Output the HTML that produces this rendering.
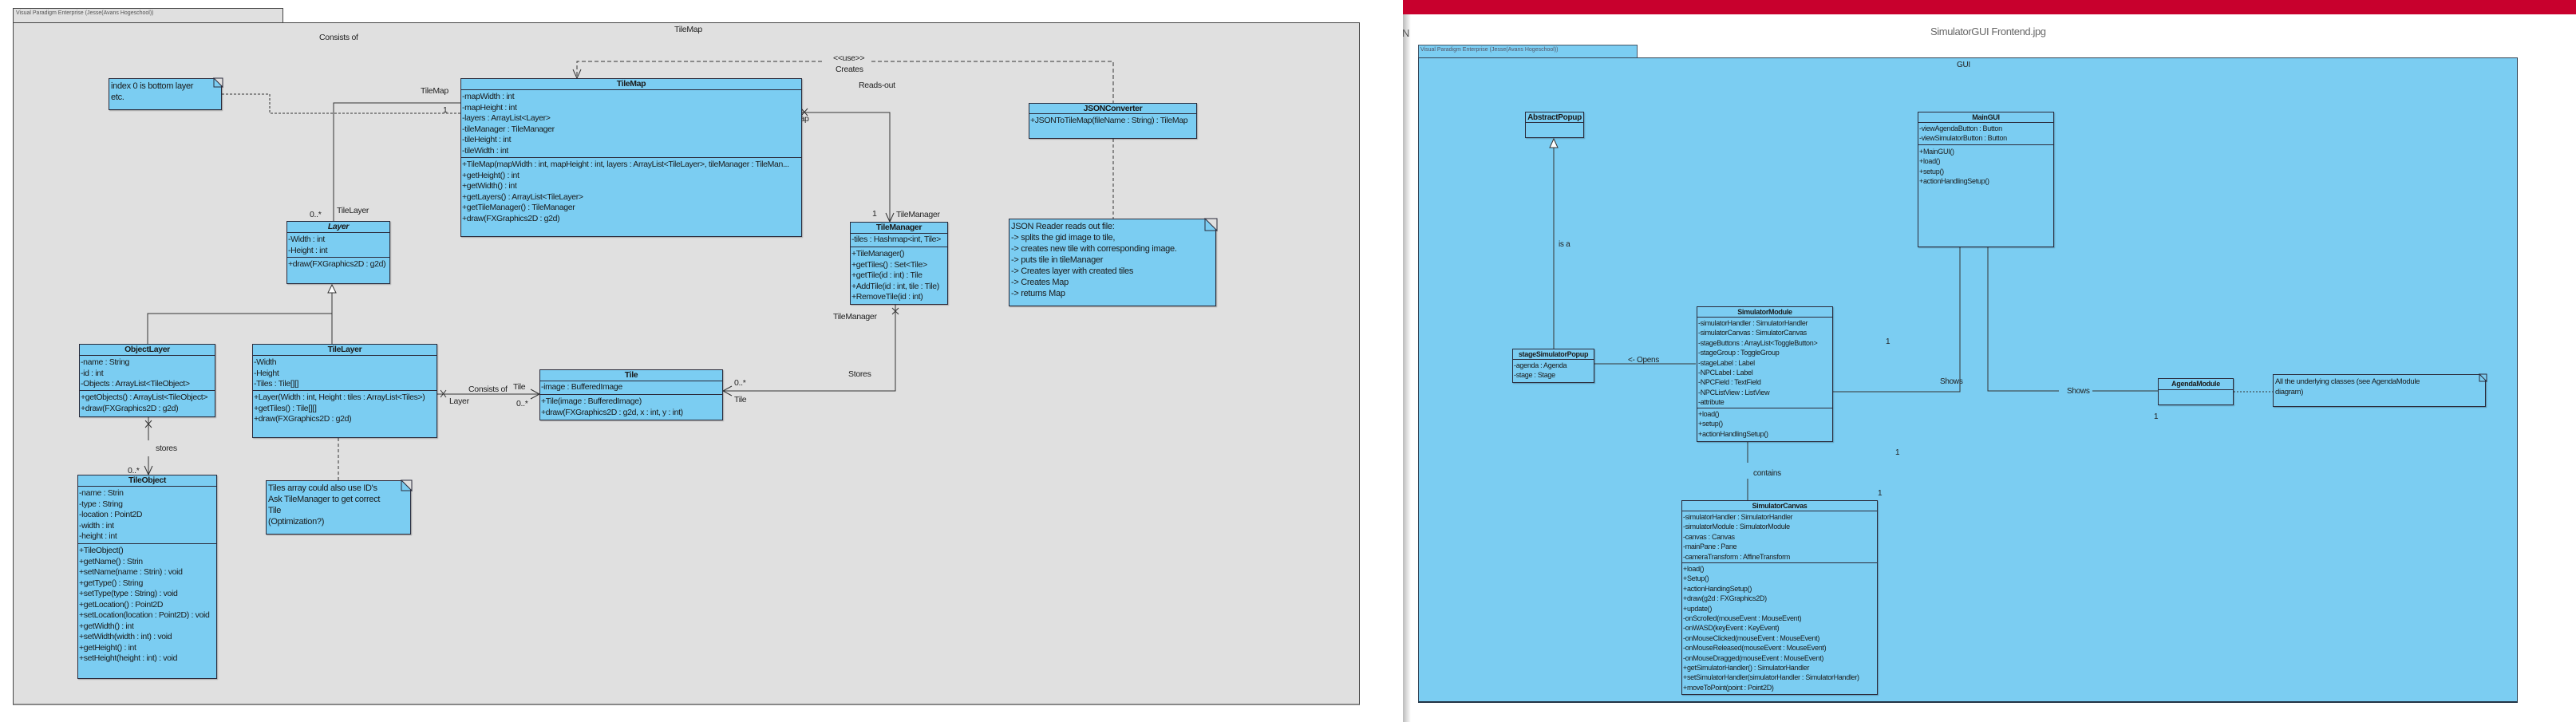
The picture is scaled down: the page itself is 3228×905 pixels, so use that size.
<!DOCTYPE html>
<html><head><meta charset="utf-8"><style>
*{margin:0;padding:0;box-sizing:border-box}
body{width:3228px;height:905px;position:relative;background:#fff;overflow:hidden;font-family:"Liberation Sans",Arial,sans-serif;color:#1a1a1a}
.a{position:absolute}
.c{position:absolute;background:#7bcdf2;border:1px solid #2a2a3a;font-size:10.5px;letter-spacing:-0.35px;overflow:hidden;white-space:nowrap;box-shadow:1px 1px 1px rgba(0,0,0,.25)}
.c .h{font-weight:bold;text-align:center;border-bottom:1px solid #2a2a3a;line-height:13px}
.c .s{border-bottom:1px solid #2a2a3a;padding-top:2px}
.c .s:last-child{border-bottom:none}
.c .r{height:13.5px;line-height:13.5px;padding-left:1px}
.g{font-size:9px;letter-spacing:-0.3px}
.g .r{height:12.4px;line-height:12.4px}
.n{position:absolute;background:#7bcdf2;border:1px solid #2a2a3a;font-size:11px;letter-spacing:-0.3px;padding:2px 2px;line-height:14px;white-space:nowrap;box-shadow:1px 1px 1px rgba(0,0,0,.3)}
svg{position:absolute;left:0;top:0}
</style></head><body>

<!-- left pane -->
<div class="a" style="left:16px;top:10px;width:339px;height:19px;background:#e0e0e0;border:1px solid #444;font-size:7px;color:#555;padding:2px 3px">Visual Paradigm Enterprise (Jesse(Avans Hogeschool))</div>
<div class="a" style="left:16px;top:28px;width:1688px;height:856px;background:#e0e0e0;border:1px solid #444;border-bottom:2px solid #888"></div>

<!-- right pane -->
<div class="a" style="left:1758px;top:0;width:1470px;height:905px;background:#fff"></div>
<div class="a" style="left:1758px;top:0;width:10px;height:905px;background:linear-gradient(90deg,#bbb,#fff)"></div>
<div class="a" style="left:1758px;top:0;width:1470px;height:18px;background:#c8002d"></div>
<div class="a" style="left:1757px;top:34px;font-size:13px;color:#555">N</div>
<div class="a" style="left:2419px;top:32px;font-size:13px;color:#666;letter-spacing:-0.4px">SimulatorGUI Frontend.jpg</div>
<div class="a" style="left:1777px;top:56px;width:275px;height:17px;background:#7bcdf2;border:1px solid #456;font-size:7px;color:#556;padding:2px 2px">Visual Paradigm Enterprise (Jesse(Avans Hogeschool))</div>
<div class="a" style="left:1777px;top:72px;width:1378px;height:809px;background:#7bcdf2;border:1px solid #345;border-bottom:2px solid #234"></div>

<svg width="3228" height="905" style="z-index:1">
<g stroke="#333" stroke-width="1" fill="none">
<!-- TileMap - Layer -->
<polyline points="577,129 418,129 418,277"/>
<polyline points="278,118 338,118 338,142 577,142" stroke-dasharray="3,2"/>
<!-- generalization -->
<polyline points="416,366 416,431"/>
<polyline points="185,431 185,393 416,393"/>
<polygon points="416,357 411,367 421,367" fill="#fff"/>
<!-- use -->
<polyline points="1030,77 723,77 723,98" stroke-dasharray="5,3"/>
<polyline points="1092,77 1395,77 1395,129" stroke-dasharray="5,3"/>
<polyline points="718,87 723,98 728,87"/>
<!-- TileMap - TileManager -->
<polyline points="1005,141 1115,141 1115,278"/>
<polyline points="1110,267 1115,278 1120,267"/>
<path d="M1004,136 l8,9 M1012,136 l-8,9"/>
<!-- TileManager - Tile -->
<polyline points="1122,382 1122,490 906,490"/>
<path d="M1118,386 l8,8 M1126,386 l-8,8"/>
<polyline points="917,484 906,490 917,496"/>
<!-- TileLayer - Tile -->
<polyline points="548,494 676,494"/>
<path d="M552,489 l7,9 M559,489 l-7,9"/>
<polyline points="665,488 676,494 665,500"/>
<!-- ObjectLayer - TileObject -->
<polyline points="186,523 186,552"/>
<polyline points="186,572 186,595"/>
<path d="M182,527 l8,9 M190,527 l-8,9"/>
<polyline points="181,584 186,595 191,584"/>
<!-- notes -->
<polyline points="424,549 424,602" stroke-dasharray="4,3"/>
<polyline points="1395,174 1395,274" stroke-dasharray="4,3"/>
<!-- GUI -->
<polyline points="1947,185 1947,437"/>
<polygon points="1947,174 1942,185 1952,185" fill="#fff"/>
<polyline points="1998,456 2125,456"/>
<polyline points="2456,310 2456,491 2297,491"/>
<polyline points="2491,310 2491,490 2580,490"/>
<polyline points="2622,490 2704,490"/>
<polyline points="2799,491 2848,491" stroke-dasharray="2,2"/>
<polyline points="2190,554 2190,580"/>
<polyline points="2190,600 2190,627"/>
</g>
<g font-family="Liberation Sans, Arial, sans-serif" font-size="10.5" fill="#222" letter-spacing="-0.3">
<text x="845" y="40">TileMap</text>
<text x="400" y="50">Consists of</text>
<text x="527" y="117">TileMap</text>
<text x="555" y="141">1</text>
<text x="388" y="272">0..*</text>
<text x="422" y="267">TileLayer</text>
<text x="1044" y="76">&lt;&lt;use&gt;&gt;</text>
<text x="1047" y="90">Creates</text>
<text x="1076" y="110">Reads-out</text>
<text x="994" y="152">Map</text>
<text x="1093" y="271">1</text>
<text x="1123" y="272">TileManager</text>
<text x="1044" y="400">TileManager</text>
<text x="1063" y="472">Stores</text>
<text x="920" y="483">0..*</text>
<text x="920" y="504">Tile</text>
<text x="587" y="491">Consists of</text>
<text x="643" y="488">Tile</text>
<text x="563" y="506">Layer</text>
<text x="647" y="509">0..*</text>
<text x="195" y="565">stores</text>
<text x="160" y="593">0..*</text>
</g>
<g font-family="Liberation Sans, Arial, sans-serif" font-size="10" fill="#222" letter-spacing="-0.3">
<text x="2452" y="84">GUI</text>
<text x="1953" y="309">is a</text>
<text x="2040" y="454">&lt;- Opens</text>
<text x="2431" y="481">Shows</text>
<text x="2590" y="493">Shows</text>
<text x="2363" y="431">1</text>
<text x="2699" y="525">1</text>
<text x="2375" y="570">1</text>
<text x="2353" y="621">1</text>
<text x="2197" y="596">contains</text>
</g>
</svg>

<!-- notes left -->
<div class="n" style="left:136px;top:98px;width:142px;height:40px;z-index:2">index 0 is bottom layer<br>etc.</div>
<div class="n" style="left:333px;top:602px;width:182px;height:68px;z-index:2">Tiles array could also use ID's<br>Ask TileManager to get correct<br>Tile<br>(Optimization?)</div>
<div class="n" style="left:1264px;top:274px;width:260px;height:110px;z-index:2">JSON Reader reads out file:<br>-&gt; splits the gid image to tile,<br>-&gt; creates new tile with corresponding image.<br>-&gt; puts tile in tileManager<br>-&gt; Creates layer with created tiles<br>-&gt; Creates Map<br>-&gt; returns Map</div>
<div class="n" style="left:2848px;top:469px;width:267px;height:41px;z-index:2;font-size:9.5px;line-height:13px">All the underlying classes (see AgendaModule<br>diagram)</div>

<!-- classes left -->
<div class="c" style="left:577px;top:98px;width:428px;height:199px;z-index:2">
<div class="h" style="height:14px">TileMap</div>
<div class="s" style="height:85px"><div class="r">-mapWidth : int</div><div class="r">-mapHeight : int</div><div class="r">-layers : ArrayList&lt;Layer&gt;</div><div class="r">-tileManager : TileManager</div><div class="r">-tileHeight : int</div><div class="r">-tileWidth : int</div></div>
<div class="s"><div class="r">+TileMap(mapWidth : int, mapHeight : int, layers : ArrayList&lt;TileLayer&gt;, tileManager : TileMan...</div><div class="r">+getHeight() : int</div><div class="r">+getWidth() : int</div><div class="r">+getLayers() : ArrayList&lt;TileLayer&gt;</div><div class="r">+getTileManager() : TileManager</div><div class="r">+draw(FXGraphics2D : g2d)</div></div>
</div>

<div class="c" style="left:359px;top:277px;width:130px;height:79px;z-index:2">
<div class="h" style="height:14px;font-style:italic">Layer</div>
<div class="s" style="height:31px"><div class="r">-Width : int</div><div class="r">-Height : int</div></div>
<div class="s"><div class="r">+draw(FXGraphics2D : g2d)</div></div>
</div>

<div class="c" style="left:99px;top:431px;width:171px;height:92px;z-index:2">
<div class="h" style="height:14px">ObjectLayer</div>
<div class="s" style="height:44px"><div class="r">-name : String</div><div class="r">-id : int</div><div class="r">-Objects : ArrayList&lt;TileObject&gt;</div></div>
<div class="s"><div class="r">+getObjects() : ArrayList&lt;TileObject&gt;</div><div class="r">+draw(FXGraphics2D : g2d)</div></div>
</div>

<div class="c" style="left:316px;top:431px;width:232px;height:118px;z-index:2">
<div class="h" style="height:14px">TileLayer</div>
<div class="s" style="height:44px"><div class="r">-Width</div><div class="r">-Height</div><div class="r">-Tiles : Tile[][]</div></div>
<div class="s"><div class="r">+Layer(Width : int, Height : tiles : ArrayList&lt;Tiles&gt;)</div><div class="r">+getTiles() : Tile[][]</div><div class="r">+draw(FXGraphics2D : g2d)</div></div>
</div>

<div class="c" style="left:676px;top:463px;width:230px;height:64px;z-index:2">
<div class="h" style="height:14px">Tile</div>
<div class="s" style="height:17px;padding-top:1px"><div class="r">-image : BufferedImage</div></div>
<div class="s"><div class="r">+Tile(image : BufferedImage)</div><div class="r">+draw(FXGraphics2D : g2d, x : int, y : int)</div></div>
</div>

<div class="c" style="left:97px;top:595px;width:175px;height:256px;z-index:2">
<div class="h" style="height:14px">TileObject</div>
<div class="s" style="height:72px"><div class="r">-name : Strin</div><div class="r">-type : String</div><div class="r">-location : Point2D</div><div class="r">-width : int</div><div class="r">-height : int</div></div>
<div class="s"><div class="r">+TileObject()</div><div class="r">+getName() : Strin</div><div class="r">+setName(name : Strin) : void</div><div class="r">+getType() : String</div><div class="r">+setType(type : String) : void</div><div class="r">+getLocation() : Point2D</div><div class="r">+setLocation(location : Point2D) : void</div><div class="r">+getWidth() : int</div><div class="r">+setWidth(width : int) : void</div><div class="r">+getHeight() : int</div><div class="r">+setHeight(height : int) : void</div></div>
</div>

<div class="c" style="left:1065px;top:278px;width:123px;height:104px;z-index:2">
<div class="h" style="height:14px">TileManager</div>
<div class="s" style="height:17px;padding-top:1px"><div class="r">-tiles : Hashmap&lt;int, Tile&gt;</div></div>
<div class="s"><div class="r">+TileManager()</div><div class="r">+getTiles() : Set&lt;Tile&gt;</div><div class="r">+getTile(id : int) : Tile</div><div class="r">+AddTile(id : int, tile : Tile)</div><div class="r">+RemoveTile(id : int)</div></div>
</div>

<div class="c" style="left:1289px;top:129px;width:211px;height:45px;z-index:2">
<div class="h" style="height:13px">JSONConverter</div>
<div class="s"><div class="r">+JSONToTileMap(fileName : String) : TileMap</div></div>
</div>

<!-- classes GUI -->
<div class="c g" style="left:1911px;top:140px;width:74px;height:33px;z-index:2">
<div class="h" style="height:13px;font-size:10px">AbstractPopup</div>
</div>

<div class="c g" style="left:1895px;top:437px;width:103px;height:43px;z-index:2">
<div class="h" style="height:13px">stageSimulatorPopup</div>
<div class="s" style="padding-top:1px"><div class="r">-agenda : Agenda</div><div class="r">-stage : Stage</div></div>
</div>

<div class="c g" style="left:2403px;top:140px;width:171px;height:170px;z-index:2">
<div class="h" style="height:13px">MainGUI</div>
<div class="s" style="height:28px;padding-top:1px"><div class="r">-viewAgendaButton : Button</div><div class="r">-viewSimulatorButton : Button</div></div>
<div class="s"><div class="r">+MainGUI()</div><div class="r">+load()</div><div class="r">+setup()</div><div class="r">+actionHandlingSetup()</div></div>
</div>

<div class="c g" style="left:2126px;top:384px;width:171px;height:170px;z-index:2">
<div class="h" style="height:13px">SimulatorModule</div>
<div class="s" style="height:114px;padding-top:1px"><div class="r">-simulatorHandler : SimulatorHandler</div><div class="r">-simulatorCanvas : SimulatorCanvas</div><div class="r">-stageButtons : ArrayList&lt;ToggleButton&gt;</div><div class="r">-stageGroup : ToggleGroup</div><div class="r">-stageLabel : Label</div><div class="r">-NPCLabel : Label</div><div class="r">-NPCField : TextField</div><div class="r">-NPCListView : ListView</div><div class="r">-attribute</div></div>
<div class="s" style="padding-top:1px"><div class="r">+load()</div><div class="r">+setup()</div><div class="r">+actionHandlingSetup()</div></div>
</div>

<div class="c g" style="left:2704px;top:474px;width:95px;height:34px;z-index:2">
<div class="h" style="height:14px">AgendaModule</div>
</div>

<div class="c g" style="left:2107px;top:627px;width:246px;height:244px;z-index:2">
<div class="h" style="height:13px">SimulatorCanvas</div>
<div class="s" style="height:65px;padding-top:1px"><div class="r">-simulatorHandler : SimulatorHandler</div><div class="r">-simulatorModule : SimulatorModule</div><div class="r">-canvas : Canvas</div><div class="r">-mainPane : Pane</div><div class="r">-cameraTransform : AffineTransform</div></div>
<div class="s" style="padding-top:1px"><div class="r">+load()</div><div class="r">+Setup()</div><div class="r">+actionHandingSetup()</div><div class="r">+draw(g2d : FXGraphics2D)</div><div class="r">+update()</div><div class="r">-onScrolled(mouseEvent : MouseEvent)</div><div class="r">-onWASD(keyEvent : KeyEvent)</div><div class="r">-onMouseClicked(mouseEvent : MouseEvent)</div><div class="r">-onMouseReleased(mouseEvent : MouseEvent)</div><div class="r">-onMouseDragged(mouseEvent : MouseEvent)</div><div class="r">+getSimulatorHandler() : SimulatorHandler</div><div class="r">+setSimulatorHandler(simulatorHandler : SimulatorHandler)</div><div class="r">+moveToPoint(point : Point2D)</div></div>
</div>

<!-- note folds -->
<svg width="3228" height="905" style="z-index:3">
<g stroke="#2a2a3a" fill="#e0e0e0">
<polygon points="268,98 279,98 279,109"/>
<polygon points="503,602 516,602 516,615"/>
<polygon points="1510,274 1525,274 1525,289"/>
<polygon points="3107,469 3116,469 3116,478" fill="#7bcdf2"/>
</g>
<g fill="none" stroke="#2a2a3a">
<polyline points="268,98 268,109 279,109"/>
<polyline points="503,602 503,615 516,615"/>
<polyline points="1510,274 1510,289 1525,289"/>
<polyline points="3107,469 3107,478 3116,478"/>
</g>
</svg>
</body></html>
